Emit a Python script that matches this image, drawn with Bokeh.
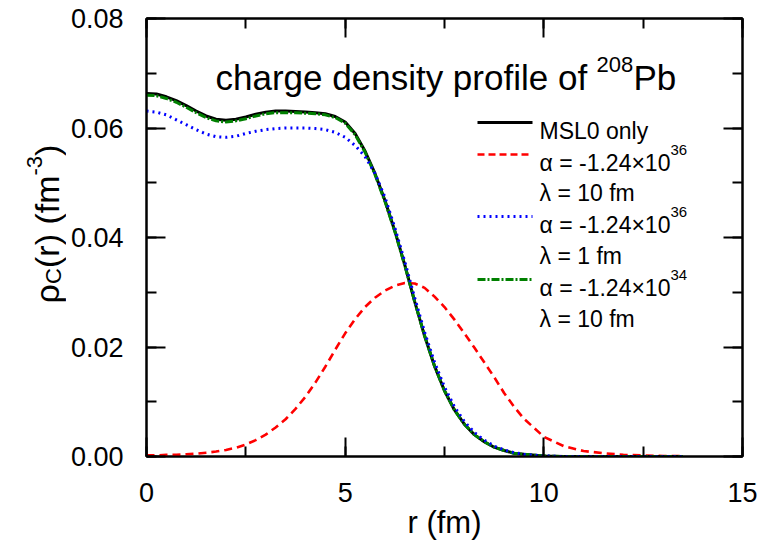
import math
from bokeh.plotting import figure
from bokeh.layouts import row
from bokeh.models import (Range1d, LinearAxis, SingleIntervalTicker, PrintfTickFormatter,
                          CustomJSTickFormatter, Label)
from bokeh.embed import file_html
from bokeh.resources import INLINE

# ---------------- data ----------------
r = [0.0, 0.25, 0.5, 0.75, 1.0, 1.25, 1.5, 1.75, 2.0, 2.25, 2.5, 2.75, 3.0, 3.25, 3.5, 3.75,
     4.0, 4.25, 4.5, 4.75, 5.0, 5.25, 5.5, 5.75, 6.0, 6.25, 6.5, 6.75, 7.0, 7.25, 7.5, 7.75,
     8.0, 8.25, 8.5, 8.75, 9.0, 9.25, 9.5, 10.0, 10.5, 11.0, 11.5, 12.0, 12.5, 13.0, 13.5]

rho_msl0 = [0.0663, 0.0662, 0.0657, 0.0650, 0.0641, 0.0631, 0.0622, 0.0616, 0.0614, 0.0616,
            0.0620, 0.0625, 0.0629, 0.0631, 0.0631, 0.0630, 0.0629, 0.0628, 0.0626, 0.0621,
            0.0611, 0.0590, 0.0558, 0.0517, 0.0468, 0.0412, 0.0350, 0.0283, 0.0220, 0.0165,
            0.0120, 0.0085, 0.0059, 0.0040, 0.0027, 0.0017, 0.0011, 0.0006, 0.0004, 0.0001,
            0.0, 0.0, 0.0, 0.0, 0.0, 0.0, 0.0]

rho_a36_l10 = [0.0002, 0.0002, 0.0003, 0.0003, 0.0004, 0.0005, 0.0007, 0.0009, 0.0012, 0.0016,
               0.0022, 0.0030, 0.0040, 0.0053, 0.0068, 0.0087, 0.0109, 0.0135, 0.0164, 0.0195,
               0.0225, 0.0251, 0.0273, 0.0290, 0.0303, 0.0312, 0.0317, 0.0316, 0.0308, 0.0292,
               0.0273, 0.0250, 0.0225, 0.0199, 0.0172, 0.0145, 0.0116, 0.0091, 0.0069, 0.0036,
               0.0019, 0.0010, 0.0006, 0.0003, 0.0002, 0.0001, 0.0001]

rho_a36_l1 = [0.0631, 0.0629, 0.0624, 0.0615, 0.0606, 0.0597, 0.0589, 0.0584, 0.0583, 0.0585,
              0.0590, 0.0594, 0.0597, 0.0599, 0.0600, 0.0600, 0.0600, 0.0599, 0.0597, 0.0592,
              0.0583, 0.0568, 0.0548, 0.0517, 0.0474, 0.0418, 0.0356, 0.0290, 0.0227, 0.0172,
              0.0127, 0.0091, 0.0064, 0.0044, 0.0030, 0.0019, 0.0012, 0.0007, 0.0004, 0.0001,
              0.0, 0.0, 0.0, 0.0, 0.0, 0.0, 0.0]

rho_a34_l10 = [0.0660, 0.0659, 0.0654, 0.0647, 0.0638, 0.0628, 0.0619, 0.0613, 0.0611, 0.0613,
               0.0617, 0.0622, 0.0626, 0.0628, 0.0628, 0.0628, 0.0627, 0.0626, 0.0624, 0.0619,
               0.0609, 0.0588, 0.0556, 0.0515, 0.0466, 0.0411, 0.0349, 0.0283, 0.0220, 0.0165,
               0.0120, 0.0085, 0.0059, 0.0040, 0.0027, 0.0017, 0.0011, 0.0006, 0.0004, 0.0001,
               0.0, 0.0, 0.0, 0.0, 0.0, 0.0, 0.0]

x_ticks = [0, 5, 10, 15]
y_ticks = [0.00, 0.02, 0.04, 0.06, 0.08]

# ---------------- layout (page pixels) ----------------
W, H = 758, 547
LEFT_W = 66                                        # strip holding the y-axis title
FX0, FX1, FY0, FY1 = 146.0, 742.0, 456.0, 18.0     # plot frame in page pixels
XMIN, XMAX, YMIN, YMAX = 0.0, 15.0, 0.0, 0.08


def dx(px):
    return XMIN + (px - FX0) * (XMAX - XMIN) / (FX1 - FX0)


def dy(py):
    return YMIN + (FY0 - py) * (YMAX - YMIN) / (FY0 - FY1)


FONT = "Liberation Sans"
MAIN_W = W - LEFT_W

p = figure(width=MAIN_W, height=H, output_backend="svg", toolbar_location=None,
           x_range=Range1d(XMIN, XMAX), y_range=Range1d(YMIN, YMAX),
           x_axis_location=None, y_axis_location=None,
           min_border_left=int(FX0 - LEFT_W), min_border_right=int(W - FX1),
           min_border_top=int(FY1), min_border_bottom=int(H - FY0))
p.grid.visible = False
p.outline_line_color = "black"
p.outline_line_width = 2
p.background_fill_color = "white"
p.border_fill_color = "white"


def style_axis(ax, labels=True):
    ax.axis_line_width = 2
    ax.axis_line_color = "black"
    ax.major_tick_line_width = 2
    ax.minor_tick_line_width = 2
    ax.major_tick_in = 19
    ax.major_tick_out = 0
    ax.minor_tick_in = 10
    ax.minor_tick_out = 0
    ax.major_label_text_font = FONT
    ax.major_label_text_font_size = "27px"
    ax.major_label_text_color = "black"
    if not labels:
        ax.formatter = CustomJSTickFormatter(code="return ''")
        ax.major_label_standoff = 0


xb = LinearAxis(ticker=SingleIntervalTicker(interval=5, num_minor_ticks=2),
                axis_label="r (fm)")
style_axis(xb)
xb.major_label_standoff = 26
xb.axis_label_standoff = 0
xb.axis_label_text_font = FONT
xb.axis_label_text_font_size = "31px"
xb.axis_label_text_font_style = "normal"
xb.axis_label_text_color = "black"
xt = LinearAxis(ticker=SingleIntervalTicker(interval=5, num_minor_ticks=2))
style_axis(xt, labels=False)
yl = LinearAxis(ticker=SingleIntervalTicker(interval=0.02, num_minor_ticks=2),
                formatter=PrintfTickFormatter(format="%.2f"))
style_axis(yl)
yl.major_label_standoff = 23
yr = LinearAxis(ticker=SingleIntervalTicker(interval=0.02, num_minor_ticks=2))
style_axis(yr, labels=False)
p.add_layout(xb, "below")
p.add_layout(xt, "above")
p.add_layout(yl, "left")
p.add_layout(yr, "right")

# ---------------- curves ----------------
RED, BLUE, GREEN = "#ff0000", "#0000ff", "#008000"
p.line(r, rho_a36_l10, line_color=RED, line_width=2.6, line_dash="8 5")
p.line(r, rho_msl0, line_color="black", line_width=3)
p.line(r, rho_a34_l10, line_color=GREEN, line_width=3, line_dash="8 2 2 2")
p.line(r, rho_a36_l1, line_color=BLUE, line_width=3, line_dash="2 4")

# ---------------- legend (drawn by hand) ----------------
LX0, LX1, LTX = 477, 532, 539
legend_rows = [
    (122, "black", None, 2.8),
    (154, RED, "7 4", 2.6),
    (216, BLUE, "2 4", 3),
    (279, GREEN, "8 2 2 2", 3),
]
for yc, col, dash, w in legend_rows:
    kw = dict(line_color=col, line_width=w)
    if dash:
        kw["line_dash"] = dash
    p.line([dx(LX0), dx(LX1)], [dy(yc), dy(yc)], **kw)


def add_text(px, py, text, size, angle=0.0):
    p.add_layout(Label(x=dx(px), y=dy(py), text=text, text_font=FONT,
                       text_font_size=f"{size}px", text_color="black",
                       text_align="left", text_baseline="alphabetic", angle=angle))


LEG = 23
add_text(LTX, 130.5, "MSL0 only", LEG)
for yc, sup in [(154, "36"), (216, "36"), (279, "34")]:
    add_text(LTX, yc + 8.5, "\u03b1 = -1.24\u00d710", LEG)
    add_text(670, yc - 4.5, sup, 15)
add_text(LTX, 192.5, "\u03bb = 10 fm", LEG)
add_text(LTX, 255.5, "\u03bb = 1 fm", LEG)
add_text(LTX, 318, "\u03bb = 10 fm", LEG)

# ---------------- title inside the plot ----------------
add_text(215, 77, "charge density profile of", 35)
add_text(596, 64, "208", 22)
add_text(633, 77, "Pb", 35)

# ---------------- y-axis title (separate strip, with sub/superscript) ----------------
# the row aligns this strip's frame with the main frame (page y 18..456),
# so its y range is expressed as negative page pixels over that span
lf = figure(width=LEFT_W, height=H, output_backend="svg", toolbar_location=None,
            x_range=Range1d(0, LEFT_W), y_range=Range1d(-FY0, -FY1),
            x_axis_location=None, y_axis_location=None,
            min_border_left=0, min_border_right=0, min_border_top=0, min_border_bottom=0)
lf.grid.visible = False
lf.outline_line_color = None
lf.background_fill_color = "white"
lf.border_fill_color = "white"

A = math.pi / 2


def add_ytext(px, py, text, size):
    lf.add_layout(Label(x=px, y=-py, text=text, text_font=FONT,
                        text_font_size=f"{size}px", text_color="black",
                        text_align="left", text_baseline="alphabetic", angle=A))


add_ytext(46, 303, "\u03c1", 34)
add_ytext(53, 283.5, "C", 22)
add_ytext(46, 267.5, "(r) (fm", 34)
add_ytext(34, 175, "-3", 22)
add_ytext(46, 155.5, ")", 34)

layout = row(lf, p, spacing=0)
open("out.html", "w").write(file_html(layout, INLINE))
